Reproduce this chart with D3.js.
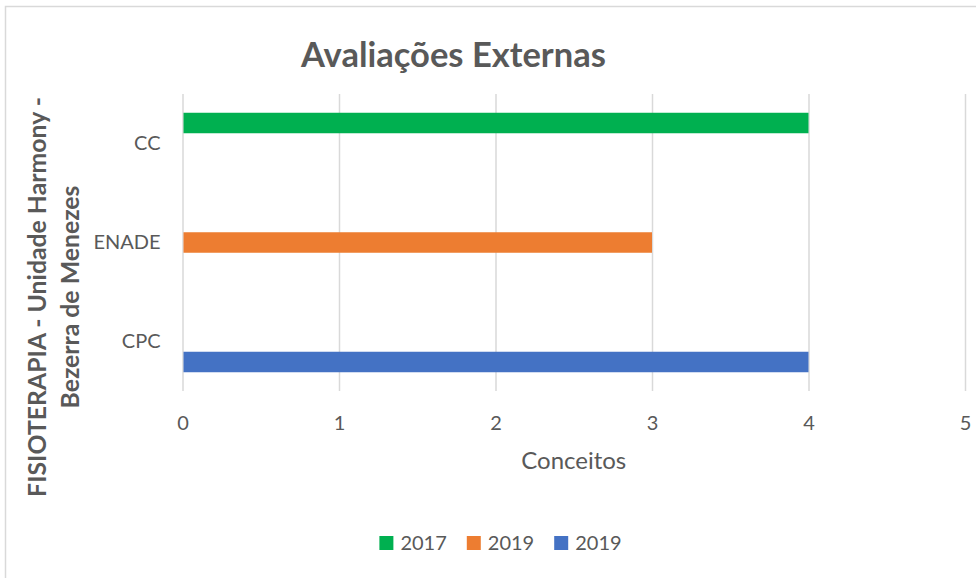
<!DOCTYPE html>
<html lang="pt">
<head>
<meta charset="UTF-8">
<title>Avaliações Externas</title>
<script src="https://cdn.jsdelivr.net/npm/d3@7"></script>
<style>
  body { margin: 0; background: #fff; }
  svg { display: block; font-family: Lato, "Open Sans", sans-serif; }
  .tick text { fill: #595959; }
</style>
</head>
<body>
<svg width="976" height="578"></svg>
<script>
// dados do gráfico
var categories = ["CC", "ENADE", "CPC"];
var seriesNames = ["2017", "2019", "2019"];
var seriesColors = ["#00b050", "#ed7d31", "#4472c4"];
var serie2017 = [4, null, null];
var serie2019a = [null, 3, null];
var serie2019b = [null, null, 4];
var xTicks = [0, 1, 2, 3, 4, 5];

var series = [serie2017, serie2019a, serie2019b];

var svg = d3.select("svg");
var textColor = "#595959";
var gridColor = "#d9d9d9";

// moldura do gráfico
svg.append("rect")
    .attr("x", 5.5).attr("y", 6.5)
    .attr("width", 1000).attr("height", 600)
    .attr("fill", "#fff")
    .attr("stroke", gridColor)
    .attr("stroke-width", 1.5);

var plotLeft = 182.5, plotRight = 965, plotTop = 94, plotBottom = 391;

var x = d3.scaleLinear().domain([0, 5]).range([plotLeft, plotRight]);
var y = d3.scaleBand().domain(categories).range([plotTop, plotBottom]);
// posição de cada série dentro da categoria
var ySub = d3.scaleBand().domain(d3.range(series.length))
    .range([0, y.bandwidth()])
    .paddingOuter(0.915);

// grade vertical
svg.append("g")
    .attr("transform", "translate(0," + plotBottom + ")")
    .call(d3.axisBottom(x).tickValues(xTicks).tickSize(-(plotBottom - plotTop)).tickFormat(""))
    .call(function (g) { g.select(".domain").remove(); })
    .selectAll("line")
    .attr("stroke", gridColor)
    .attr("stroke-width", 1.5);

// barras
series.forEach(function (vals, i) {
    var rows = categories.map(function (c, j) { return { cat: c, v: vals[j] }; })
        .filter(function (d) { return d.v != null; });
    svg.append("g").selectAll("rect")
        .data(rows)
        .enter()
        .append("rect")
        .attr("x", x(0) + 1)
        .attr("y", function (d) { return y(d.cat) + ySub(i); })
        .attr("width", function (d) { return x(d.v) - x(0) - 1; })
        .attr("height", ySub.bandwidth())
        .attr("fill", seriesColors[i]);
});

// rótulos do eixo x
svg.append("g")
    .attr("transform", "translate(0," + 416 + ")")
    .call(d3.axisBottom(x).tickValues(xTicks).tickSize(0).tickPadding(0).tickFormat(d3.format("d")))
    .call(function (g) { g.select(".domain").remove(); })
    .selectAll("text")
    .attr("font-size", 20)
    .attr("dy", "0.71em")
    .attr("font-family", "Lato");

// rótulos do eixo y
svg.append("g")
    .attr("transform", "translate(" + plotLeft + ",0)")
    .call(d3.axisLeft(y).tickSize(0).tickPadding(22))
    .call(function (g) { g.select(".domain").remove(); })
    .selectAll("text")
    .attr("font-size", 20)
    .attr("font-family", "Lato");

// título
svg.append("text")
    .attr("x", 453.5).attr("y", 67)
    .attr("text-anchor", "middle")
    .attr("font-size", 34.5)
    .attr("font-weight", "bold")
    .attr("fill", textColor)
    .text("Avaliações Externas");

// título do eixo x
svg.append("text")
    .attr("x", (plotLeft + plotRight) / 2).attr("y", 469)
    .attr("text-anchor", "middle")
    .attr("font-size", 24)
    .attr("fill", textColor)
    .text("Conceitos");

// título do eixo y (duas linhas)
var yTitle = svg.append("text")
    .attr("transform", "translate(46,297) rotate(-90)")
    .attr("text-anchor", "middle")
    .attr("font-size", 24.8)
    .attr("font-weight", "bold")
    .attr("fill", textColor);
yTitle.append("tspan").attr("x", 0).attr("y", 0).text("FISIOTERAPIA - Unidade Harmony -");
yTitle.append("tspan").attr("x", 0).attr("y", 33.3).text("Bezerra de Menezes");

// legenda
var legend = svg.append("g");
var lx = 0;
seriesNames.forEach(function (name, i) {
    var item = legend.append("g").attr("transform", "translate(" + lx + ",0)");
    item.append("rect")
        .attr("x", 0).attr("y", 536)
        .attr("width", 14).attr("height", 14)
        .attr("fill", seriesColors[i]);
    var t = item.append("text")
        .attr("x", 21).attr("y", 550)
        .attr("font-size", 20)
        .attr("fill", textColor)
        .text(name);
    lx += 21 + t.node().getComputedTextLength() + 20;
});
var legendW = lx - 20;
legend.attr("transform", "translate(" + (500.5 - legendW / 2) + ",0)");
</script>
</body>
</html>
